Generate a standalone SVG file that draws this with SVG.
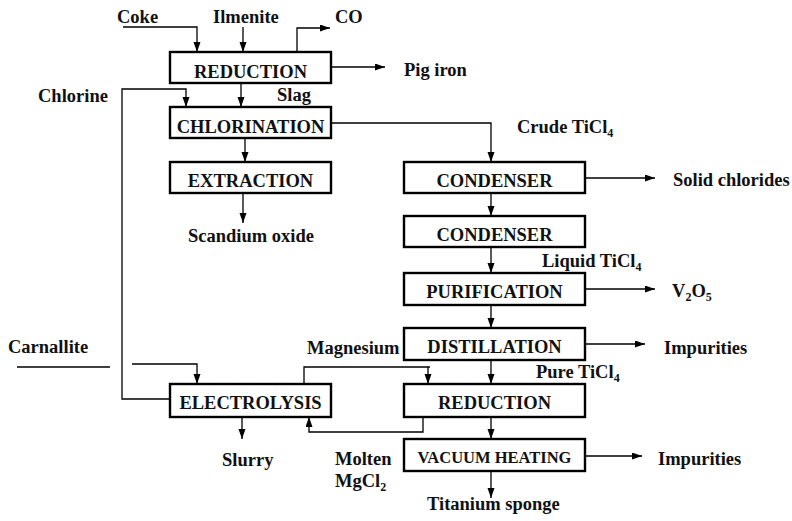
<svg xmlns="http://www.w3.org/2000/svg" width="792" height="521" viewBox="0 0 792 521">
<style>
text{font-family:"Liberation Serif","Times New Roman",serif;font-weight:bold;font-size:18.5px;fill:#111}
.box rect{fill:#fff;stroke:#000;stroke-width:2.4}
.box text{text-anchor:middle}
.c path,.c line,.c polyline{fill:none;stroke:#000;stroke-width:1.3}
.sub{font-size:12px}
</style>
<defs>
<marker id="a" markerUnits="userSpaceOnUse" markerWidth="11" markerHeight="8" refX="10" refY="3.5" orient="auto"><path d="M0,0 L10,3.5 L0,7 z" fill="#000"/></marker>
</defs>
<g class="c">
<polyline points="123,27 197,27 197,52" marker-end="url(#a)"/>
<line x1="243" y1="27" x2="243" y2="52" marker-end="url(#a)"/>
<polyline points="297,52 297,28 330,28" marker-end="url(#a)"/>
<line x1="331" y1="67" x2="385" y2="67" marker-end="url(#a)"/>
<line x1="241" y1="83" x2="241" y2="107" marker-end="url(#a)"/>
<polyline points="170,399 122,399 122,89 186,89 186,107" marker-end="url(#a)"/>
<polyline points="331,123 491,123 491,162" marker-end="url(#a)"/>
<line x1="245" y1="138" x2="245" y2="162" marker-end="url(#a)"/>
<line x1="243" y1="193" x2="243" y2="223" marker-end="url(#a)"/>
<line x1="585" y1="178" x2="655" y2="178" marker-end="url(#a)"/>
<line x1="491" y1="193" x2="491" y2="216" marker-end="url(#a)"/>
<line x1="491" y1="247" x2="491" y2="273" marker-end="url(#a)"/>
<line x1="585" y1="289" x2="655" y2="289" marker-end="url(#a)"/>
<line x1="491" y1="305" x2="491" y2="328" marker-end="url(#a)"/>
<line x1="585" y1="344" x2="645" y2="344" marker-end="url(#a)"/>
<line x1="491" y1="360" x2="491" y2="384" marker-end="url(#a)"/>
<line x1="17" y1="367" x2="110" y2="367"/>
<polyline points="132,364 197,364 197,384" marker-end="url(#a)"/>
<polyline points="304,384 304,367 430,367"/>
<line x1="428" y1="367" x2="428" y2="384" marker-end="url(#a)"/>
<polyline points="423,417 423,432 309,432 309,417" marker-end="url(#a)"/>
<line x1="242" y1="417" x2="242" y2="439" marker-end="url(#a)"/>
<line x1="491" y1="417" x2="491" y2="439" marker-end="url(#a)"/>
<line x1="585" y1="456" x2="642" y2="456" marker-end="url(#a)"/>
<line x1="491" y1="471" x2="491" y2="498" marker-end="url(#a)"/>
</g>
<g id="reduction1" class="box"><rect x="170" y="52" width="161" height="31"/><text x="250.5" y="78">REDUCTION</text></g>
<g id="chlorination" class="box"><rect x="170" y="107" width="161" height="31"/><text x="250.5" y="133">CHLORINATION</text></g>
<g id="extraction" class="box"><rect x="170" y="162" width="161" height="31"/><text x="250.5" y="187">EXTRACTION</text></g>
<g id="condenser1" class="box"><rect x="404" y="162" width="181" height="31"/><text x="494.5" y="187">CONDENSER</text></g>
<g id="condenser2" class="box"><rect x="404" y="216" width="181" height="31"/><text x="494.5" y="241">CONDENSER</text></g>
<g id="purification" class="box"><rect x="404" y="273" width="181" height="32"/><text x="494.5" y="298">PURIFICATION</text></g>
<g id="distillation" class="box"><rect x="404" y="328" width="181" height="32"/><text x="494.5" y="353">DISTILLATION</text></g>
<g id="electrolysis" class="box"><rect x="170" y="384" width="161" height="33"/><text x="250.5" y="409">ELECTROLYSIS</text></g>
<g id="reduction2" class="box"><rect x="404" y="384" width="181" height="33"/><text x="494.5" y="409">REDUCTION</text></g>
<g id="vacuum" class="box"><rect x="404" y="439" width="181" height="32"/><text x="494.5" y="463" style="font-size:16.5px">VACUUM HEATING</text></g>
<g id="labels">
<text x="117" y="23">Coke</text>
<text x="213" y="23">Ilmenite</text>
<text x="335" y="23">CO</text>
<text x="404" y="76">Pig iron</text>
<text x="38" y="102">Chlorine</text>
<text x="277" y="101">Slag</text>
<text x="517" y="133">Crude TiCl<tspan class="sub" dy="4">4</tspan></text>
<text x="188" y="242">Scandium oxide</text>
<text x="673" y="186">Solid chlorides</text>
<text x="542" y="267">Liquid TiCl<tspan class="sub" dy="4">4</tspan></text>
<text x="672" y="297">V<tspan class="sub" dy="4">2</tspan><tspan dy="-4">O</tspan><tspan class="sub" dy="4">5</tspan></text>
<text x="8" y="353">Carnallite</text>
<text x="307" y="354">Magnesium</text>
<text x="664" y="354">Impurities</text>
<text x="536" y="378">Pure TiCl<tspan class="sub" dy="4">4</tspan></text>
<text x="222" y="466">Slurry</text>
<text x="335" y="465">Molten</text>
<text x="335" y="487">MgCl<tspan class="sub" dy="4">2</tspan></text>
<text x="658" y="465">Impurities</text>
<text x="427" y="510">Titanium sponge</text>
</g>
</svg>
